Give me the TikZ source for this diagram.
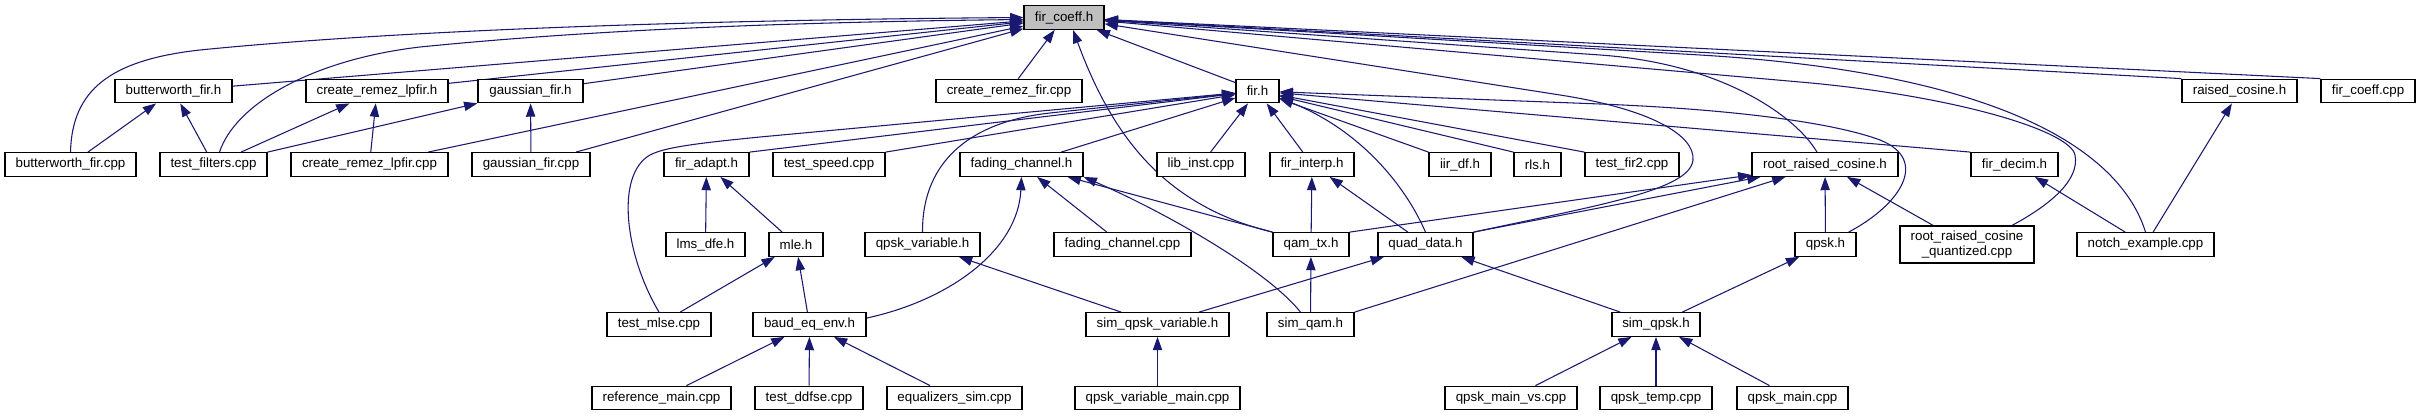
\documentclass[tikz,border=0pt]{standalone}
\usepackage{fontspec}
\setmainfont{Liberation Sans}
\usetikzlibrary{arrows.meta,calc,backgrounds}
\definecolor{edgeblue}{HTML}{191970}
\definecolor{focusgrey}{HTML}{BFBFBF}
\begin{document}
\begin{tikzpicture}[x=0.75pt,y=-0.75pt,
  box/.style={draw=black,fill=white,line width=0.9pt,inner sep=0pt,minimum height=17.7pt,
    font=\fontsize{10pt}{11.6pt}\selectfont},
  dep/.style={draw=edgeblue,line width=0.8pt,-{Triangle[length=10pt,width=7pt]}}]
\useasboundingbox (0,0) rectangle (2420,416);
% row 0
\node[box,fill=focusgrey,minimum width=60pt] (fc) at (1064,17.5) {fir\_coeff.h};
% row 1
\node[box,minimum width=87.75pt] (bfh) at (173.5,91) {butterworth\_fir.h};
\node[box,minimum width=106.5pt] (crlh) at (377,91) {create\_remez\_lpfir.h};
\node[box,minimum width=78.75pt] (gfh) at (530.5,91) {gaussian\_fir.h};
\node[box,minimum width=109.5pt] (crf) at (1009,91) {create\_remez\_fir.cpp};
\node[box,minimum width=32.25pt] (firh) at (1257.5,91) {fir.h};
\node[box,minimum width=86.25pt] (rch) at (2239.5,91) {raised\_cosine.h};
\node[box,minimum width=70.5pt] (fcc) at (2368,91) {fir\_coeff.cpp};
% row 2
\node[box,minimum width=98.25pt] (bfc) at (70.5,164.5) {butterworth\_fir.cpp};
\node[box,minimum width=80.25pt] (tf) at (213.5,164.5) {test\_filters.cpp};
\node[box,minimum width=117.75pt] (crlc) at (369.5,164.5) {create\_remez\_lpfir.cpp};
\node[box,minimum width=88.5pt] (gfc) at (531,164.5) {gaussian\_fir.cpp};
\node[box,minimum width=63.75pt] (fa) at (706.5,164.5) {fir\_adapt.h};
\node[box,minimum width=84pt] (ts) at (829,164.5) {test\_speed.cpp};
\node[box,minimum width=92.25pt] (fch) at (1021.5,164.5) {fading\_channel.h};
\node[box,minimum width=66pt] (li) at (1201,164.5) {lib\_inst.cpp};
\node[box,minimum width=63pt] (fi) at (1312,164.5) {fir\_interp.h};
\node[box,minimum width=46.5pt] (iir) at (1460,164.5) {iir\_df.h};
\node[box,minimum width=35.25pt] (rls) at (1537.5,164.5) {rls.h};
\node[box,minimum width=70.5pt] (tf2) at (1632,164.5) {test\_fir2.cpp};
\node[box,minimum width=109.5pt] (rrc) at (1825,164.5) {root\_raised\_cosine.h};
\node[box,minimum width=65.25pt] (fd) at (2014.5,164.5) {fir\_decim.h};
% row 3
\node[box,minimum width=59.25pt] (lms) at (705.5,244.5) {lms\_dfe.h};
\node[box,minimum width=40.5pt] (mle) at (796,244.5) {mle.h};
\node[box,minimum width=86.25pt] (qv) at (922.5,244.5) {qpsk\_variable.h};
\node[box,minimum width=102.75pt] (fcc2) at (1122.5,244.5) {fading\_channel.cpp};
\node[box,minimum width=57pt] (qt) at (1311,244.5) {qam\_tx.h};
\node[box,minimum width=71.25pt] (qd) at (1425.5,244.5) {quad\_data.h};
\node[box,minimum width=45.75pt] (qpsk) at (1825.5,244.5) {qpsk.h};
\node[box,minimum width=100.5pt,minimum height=27.75pt,align=center] (rrq) at (1967,244.5) {root\_raised\_cosine\\\_quantized.cpp};
\node[box,minimum width=102.75pt] (ne) at (2145.5,244.5) {notch\_example.cpp};
% row 4
\node[box,minimum width=78pt] (tm) at (659,324.5) {test\_mlse.cpp};
\node[box,minimum width=84.75pt] (be) at (809.5,324.5) {baud\_eq\_env.h};
\node[box,minimum width=107.25pt] (sqv) at (1157.5,324.5) {sim\_qpsk\_variable.h};
\node[box,minimum width=65.25pt] (sq) at (1310.5,324.5) {sim\_qam.h};
\node[box,minimum width=66pt] (sqp) at (1656,324.5) {sim\_qpsk.h};
% row 5
\node[box,minimum width=104.25pt] (rm) at (661.5,398) {reference\_main.cpp};
\node[box,minimum width=81pt] (td) at (809,398) {test\_ddfse.cpp};
\node[box,minimum width=101.25pt] (es) at (954.5,398) {equalizers\_sim.cpp};
\node[box,minimum width=123.75pt] (qvm) at (1157.5,398) {qpsk\_variable\_main.cpp};
\node[box,minimum width=99pt] (qmv) at (1511,398) {qpsk\_main\_vs.cpp};
\node[box,minimum width=84pt] (qtp) at (1656,398) {qpsk\_temp.cpp};
\node[box,minimum width=83.25pt] (qm) at (1792.5,398) {qpsk\_main.cpp};

\begin{scope}[on background layer]
\fill[white] (0,0) rectangle (2420,416);
% --- into fir_coeff.h, from the left
\draw[dep] (bfc.north) .. controls (72,90) and (110,60) .. (200,50) .. controls (400,30) and (700,20) .. (fc.west);
\draw[dep] ($(tf.north)+(6,0)$) .. controls (235,105) and (310,60) .. (420,47) .. controls (600,29) and (800,22) .. ($(fc.west)+(0,2)$);
\draw[dep] (bfh) -- (fc);
\draw[dep] (crlh) -- (fc);
\draw[dep] (crlc) -- (fc);
\draw[dep] (gfh) -- (fc);
\draw[dep] (gfc) -- (fc);
\draw[dep] (crf) -- (fc);
\draw[dep] (firh) -- (fc);
\draw[dep] (qt.north west) .. controls (1160,205) and (1110,130) .. ($(fc.south)+(9,0)$);
% --- into fir_coeff.h, from the right
\draw[dep] (fcc.north west) -- (fc);
\draw[dep] (rch.north west) -- (fc);
\draw[dep] (ne.north) .. controls (2120,150) and (2000,73) .. (1700,55) -- (fc);
\draw[dep] ($(rrq.north)+(45,0)$) .. controls (2050,205) and (2080,180) .. (2075,155) .. controls (2070,130) and (1950,95) .. (1800,82) -- (fc);
\draw[dep] ($(rrc.north)+(-8,0)$) .. controls (1795,115) and (1720,63.4) .. (1600,55) -- (fc);
\draw[dep] (qd.north east) .. controls (1600,205) and (1690,190) .. (1693,160) .. controls (1695,135) and (1650,109) .. (1560,95) -- (fc);
% --- into fir.h
\draw[dep] (fa.north east) -- (firh);
\draw[dep] (tm.north) .. controls (625,255) and (615,175) .. (650,155) .. controls (665,147) and (700,143) .. (760,137) -- (firh);
\draw[dep] (ts.north east) -- (firh);
\draw[dep] (qv.north) .. controls (922,170) and (960,123) .. (1050,113) -- (firh);
\draw[dep] (fch) -- (firh);
\draw[dep] (li) -- (firh);
\draw[dep] (fi) -- (firh);
\draw[dep] (qd.north) .. controls (1405,185) and (1360,130) .. ($(firh.east)+(0,7)$);
\draw[dep] (iir.north west) -- (firh);
\draw[dep] (rls.north west) -- (firh);
\draw[dep] (tf2.north west) -- (firh);
\draw[dep] ($(qpsk.north east)+(-8,0)$) .. controls (1900,205) and (1930,160) .. (1880,140) .. controls (1840,125) and (1750,110) .. (1600,104) -- (firh);
\draw[dep] (fd.north west) -- (firh);
% --- fading_channel.h
\draw[dep] (fcc2) -- (fch);
\draw[dep] ($(be.north east)+(0,6)$) .. controls (950,300) and (1018,250) .. (fch.south);
\draw[dep] (qt.north west) -- (fch);
\draw[dep] ($(sq.north)+(-10,0)$) .. controls (1265,268) and (1160,210) .. (fch.south east);
% --- fir_interp.h
\draw[dep] (qt) -- (fi);
\draw[dep] (qd) -- (fi);
% --- root_raised_cosine.h
\draw[dep] (qt.north east) -- (rrc);
\draw[dep] (qd.north east) -- (rrc);
\draw[dep] (sq.north east) -- (rrc);
\draw[dep] (qpsk) -- (rrc);
\draw[dep] (rrq) -- (rrc);
% --- lower levels
\draw[dep] (sqv) -- (qd);
\draw[dep] (sqp) -- (qd);
\draw[dep] (sqv) -- (qv);
\draw[dep] (qvm) -- (sqv);
\draw[dep] (sq) -- (qt);
\draw[dep] (sqp) -- (qpsk);
\draw[dep] (qmv) -- (sqp);
\draw[dep] (qtp) -- (sqp);
\draw[dep] (qm) -- (sqp);
\draw[dep] (rm) -- (be);
\draw[dep] (td) -- (be);
\draw[dep] (es) -- (be);
\draw[dep] (tm) -- (mle);
\draw[dep] (be) -- (mle);
\draw[dep] (mle) -- (fa);
\draw[dep] (lms) -- (fa);
% --- left group
\draw[dep] (bfc) -- (bfh);
\draw[dep] (tf) -- (bfh);
\draw[dep] (tf) -- (crlh);
\draw[dep] (crlc) -- (crlh);
\draw[dep] (tf.north east) -- (gfh);
\draw[dep] (gfc) -- (gfh);
% --- notch example
\draw[dep] (ne) -- (fd);
\draw[dep] (ne) -- (rch);
\end{scope}
\end{tikzpicture}
\end{document}
